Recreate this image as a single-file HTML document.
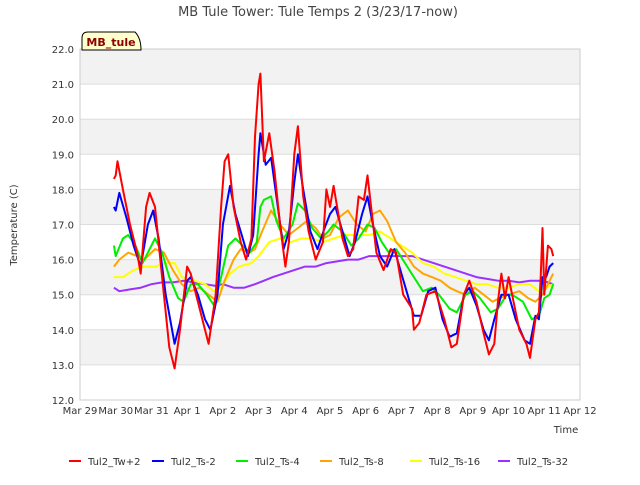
<!DOCTYPE html>
<html><head><meta charset="utf-8"><style>
body{margin:0;background:#fff;font-family:"Liberation Sans",sans-serif}
svg text{font-family:"DejaVu Sans","Liberation Sans",sans-serif}
</style></head><body>
<svg id="c" width="640" height="480">
<text x="318" y="16" text-anchor="middle" font-size="13" fill="#444">MB Tule Tower: Tule Temps 2 (3/23/17-now)</text>
<g id="grid"></g>
<rect x="80" y="49" width="500" height="351" fill="none" stroke="#ccc"/>
<g id="series"></g>
<g id="axes"></g>
<path d="M82,50 L82,38 Q82,32 88,32 L135,32 Q141,38 141,50 Z" fill="#ffffcc" stroke="#000" stroke-width="1"/>
<text x="111" y="46" text-anchor="middle" font-size="11" font-weight="bold" fill="#8b0000">MB_tule</text>
<text x="0" y="0" transform="translate(17,225) rotate(-90)" text-anchor="middle" font-size="10" fill="#333">Temperature (C)</text>
<text x="566" y="433" text-anchor="middle" font-size="10" fill="#333">Time</text>
<g id="legend"></g>
</svg>
<script>
const xTickLabels=["Mar 29","Mar 30","Mar 31","Apr 1","Apr 2","Apr 3","Apr 4","Apr 5","Apr 6","Apr 7","Apr 8","Apr 9","Apr 10","Apr 11","Apr 12"];
const yTicks=[12,13,14,15,16,17,18,19,20,21,22];
const seriesNames=["Tul2_Tw+2","Tul2_Ts-2","Tul2_Ts-4","Tul2_Ts-8","Tul2_Ts-16","Tul2_Ts-32"];
const tw2=[[0.95,18.3],[1.0,18.4],[1.05,18.8],[1.2,18.0],[1.4,17.0],[1.6,16.2],[1.7,15.6],[1.85,17.5],[1.95,17.9],[2.1,17.5],[2.3,15.5],[2.5,13.5],[2.65,12.9],[2.8,14.0],[3.0,15.8],[3.1,15.6],[3.3,14.8],[3.5,14.0],[3.6,13.6],[3.8,15.0],[3.95,17.5],[4.05,18.8],[4.15,19.0],[4.3,17.5],[4.5,16.5],[4.65,16.0],[4.8,16.6],[4.9,19.5],[5.0,21.0],[5.05,21.3],[5.15,18.8],[5.3,19.6],[5.45,18.5],[5.6,17.0],[5.75,15.8],[5.85,16.5],[6.0,19.0],[6.1,19.8],[6.25,17.8],[6.4,16.8],[6.6,16.0],[6.8,16.5],[6.9,18.0],[7.0,17.5],[7.1,18.1],[7.2,17.5],[7.35,16.6],[7.5,16.1],[7.65,16.3],[7.8,17.8],[7.95,17.7],[8.05,18.4],[8.15,17.5],[8.3,16.2],[8.5,15.7],[8.7,16.3],[8.85,16.2],[9.05,15.0],[9.3,14.6],[9.35,14.0],[9.5,14.2],[9.7,15.0],[9.95,15.1],[10.2,14.3],[10.4,13.5],[10.55,13.6],[10.75,15.0],[10.9,15.4],[11.1,14.8],[11.3,13.9],[11.45,13.3],[11.6,13.6],[11.7,14.8],[11.8,15.6],[11.9,14.9],[12.0,15.5],[12.1,15.0],[12.3,14.0],[12.5,13.6],[12.6,13.2],[12.75,14.3],[12.85,14.5],[12.9,15.5],[12.95,16.9],[13.0,15.0],[13.1,16.4],[13.2,16.3],[13.25,16.1]];
const ts2=[[0.95,17.5],[1.0,17.4],[1.1,17.9],[1.3,17.2],[1.5,16.4],[1.7,15.8],[1.9,17.0],[2.05,17.4],[2.2,16.6],[2.4,15.0],[2.65,13.6],[2.8,14.2],[3.0,15.4],[3.1,15.5],[3.3,15.0],[3.5,14.3],[3.65,14.0],[3.85,15.0],[4.0,17.0],[4.2,18.1],[4.35,17.3],[4.5,16.8],[4.7,16.1],[4.85,16.7],[5.0,19.0],[5.05,19.6],[5.2,18.7],[5.35,18.9],[5.5,17.8],[5.7,16.3],[5.85,16.8],[6.0,18.2],[6.1,19.0],[6.25,18.0],[6.45,16.8],[6.65,16.3],[6.85,16.9],[7.0,17.3],[7.15,17.5],[7.35,16.8],[7.55,16.1],[7.7,16.5],[7.9,17.3],[8.05,17.8],[8.2,17.0],[8.4,16.1],[8.6,15.8],[8.8,16.3],[9.0,15.6],[9.2,14.9],[9.35,14.4],[9.55,14.4],[9.75,15.1],[9.95,15.2],[10.15,14.3],[10.35,13.8],[10.55,13.9],[10.75,15.0],[10.9,15.2],[11.1,14.7],[11.3,14.0],[11.45,13.7],[11.6,14.3],[11.8,15.0],[12.0,15.0],[12.2,14.3],[12.45,13.7],[12.6,13.6],[12.75,14.4],[12.85,14.3],[12.95,15.5],[13.05,15.5],[13.15,15.8],[13.25,15.9]];
const ts4=[[0.95,16.4],[1.0,16.1],[1.2,16.6],[1.35,16.7],[1.55,16.4],[1.75,15.9],[1.9,16.2],[2.1,16.6],[2.3,16.2],[2.5,15.5],[2.75,14.9],[2.9,14.8],[3.1,15.3],[3.3,15.3],[3.55,15.0],[3.75,14.7],[3.95,15.5],[4.15,16.4],[4.35,16.6],[4.55,16.4],[4.75,16.2],[4.95,16.5],[5.05,17.5],[5.15,17.7],[5.35,17.8],[5.5,17.1],[5.7,16.6],[5.95,17.0],[6.1,17.6],[6.3,17.4],[6.5,16.9],[6.75,16.6],[6.95,16.8],[7.1,17.0],[7.35,16.8],[7.6,16.4],[7.8,16.6],[8.05,17.0],[8.25,16.9],[8.45,16.5],[8.65,16.2],[8.85,16.3],[9.1,15.9],[9.35,15.5],[9.6,15.1],[9.85,15.2],[10.05,15.0],[10.35,14.6],[10.55,14.5],[10.8,15.0],[11.0,15.1],[11.2,14.9],[11.5,14.5],[11.7,14.6],[11.95,15.0],[12.1,15.0],[12.4,14.8],[12.65,14.3],[12.85,14.4],[13.0,14.9],[13.15,15.0],[13.25,15.3]];
const ts8=[[0.95,15.8],[1.1,16.0],[1.35,16.2],[1.6,16.1],[1.8,16.0],[2.1,16.3],[2.35,16.2],[2.6,15.7],[2.85,15.3],[3.1,15.1],[3.35,15.2],[3.6,15.0],[3.85,14.8],[4.05,15.4],[4.3,16.0],[4.5,16.3],[4.75,16.2],[4.9,16.3],[5.1,16.8],[5.35,17.4],[5.6,17.0],[5.85,16.7],[6.1,16.9],[6.35,17.1],[6.6,16.9],[6.8,16.6],[7.0,16.7],[7.25,17.2],[7.5,17.4],[7.75,17.0],[8.0,16.8],[8.2,17.3],[8.4,17.4],[8.6,17.1],[8.85,16.5],[9.1,16.2],[9.35,15.8],[9.6,15.6],[9.85,15.5],[10.1,15.4],[10.35,15.2],[10.55,15.1],[10.8,15.0],[11.05,15.2],[11.3,15.0],[11.55,14.8],[11.75,14.9],[12.0,15.0],[12.3,15.1],[12.55,14.9],[12.75,14.8],[12.95,15.0],[13.1,15.3],[13.25,15.6]];
const ts16=[[0.95,15.5],[1.2,15.5],[1.5,15.7],[1.8,15.8],[2.1,15.8],[2.4,15.9],[2.65,15.9],[2.85,15.5],[3.2,15.4],[3.5,15.3],[3.75,15.1],[3.95,15.2],[4.2,15.6],[4.45,15.8],[4.8,15.9],[5.0,16.1],[5.3,16.5],[5.6,16.6],[5.9,16.5],[6.2,16.6],[6.5,16.6],[6.8,16.5],[7.1,16.6],[7.4,16.7],[7.8,16.7],[8.1,16.7],[8.4,16.8],[8.7,16.6],[9.0,16.4],[9.3,16.2],[9.6,15.9],[9.9,15.8],[10.2,15.6],[10.5,15.5],[10.8,15.4],[11.1,15.3],[11.4,15.3],[11.7,15.2],[12.0,15.2],[12.3,15.3],[12.6,15.3],[12.85,15.1],[13.05,15.2],[13.25,15.3]];
const ts32=[[0.95,15.2],[1.1,15.1],[1.4,15.15],[1.7,15.2],[2.0,15.3],[2.3,15.35],[2.6,15.35],[2.9,15.4],[3.2,15.35],[3.5,15.3],[3.8,15.25],[4.0,15.3],[4.3,15.2],[4.6,15.2],[4.9,15.3],[5.15,15.4],[5.4,15.5],[5.7,15.6],[6.0,15.7],[6.3,15.8],[6.6,15.8],[6.9,15.9],[7.2,15.95],[7.5,16.0],[7.8,16.0],[8.1,16.1],[8.4,16.1],[8.7,16.1],[9.0,16.1],[9.3,16.1],[9.6,16.0],[9.9,15.9],[10.2,15.8],[10.5,15.7],[10.8,15.6],[11.1,15.5],[11.4,15.45],[11.7,15.4],[12.0,15.4],[12.3,15.35],[12.6,15.4],[12.9,15.4],[13.1,15.35],[13.25,15.3]];
const NS="http://www.w3.org/2000/svg";
const X0=80,X1=580,Y0=400,Y1=49;
function xs(d){return X0+d*(X1-X0)/14;}
function ys(v){return Y0-(v-12)*(Y0-Y1)/10;}
function mk(t,a,p){const e=document.createElementNS(NS,t);for(const k in a)e.setAttribute(k,a[k]);p.appendChild(e);return e;}
const grid=document.getElementById('grid'),axes=document.getElementById('axes');
for(let i=0;i<yTicks.length-1;i++){
 const v=yTicks[i];
 if(i%2===1){const r=mk('rect',{x:X0,y:ys(v+1),width:X1-X0,height:ys(v)-ys(v+1),fill:'#f2f2f2'},grid);
 
 }
}
yTicks.forEach(v=>{
 const l=mk('line',{x1:X0,x2:X1,y1:ys(v),y2:ys(v),stroke:'#ddd'},grid);
 
 
 const t=mk('text',{x:X0-6,y:ys(v)+4,'text-anchor':'end','font-size':10,fill:'#333'},axes);
 t.textContent=v.toFixed(1);
 
 
});
xTickLabels.forEach((s,i)=>{
 const t=mk('text',{x:xs(i),y:414,'text-anchor':'middle','font-size':10,fill:'#333'},axes);
 t.textContent=s;
 
 
});
const colors=['#ff0000','#0000ff','#00ee00','#ffa500','#ffff00','#9b30ff'];
const data=[tw2,ts2,ts4,ts8,ts16,ts32];
const sg=document.getElementById('series');
for(let k=data.length-1;k>=0;k--){
 const pts=data[k].map(p=>xs(p[0]).toFixed(1)+','+ys(p[1]).toFixed(1)).join(' ');
 const pl=mk('polyline',{points:pts,fill:'none',stroke:colors[k],'stroke-width':2,'stroke-linejoin':'round'},sg);
 
 
}
const lg=document.getElementById('legend');
const lx=[69,152,236,320,410,498];
seriesNames.forEach((n,i)=>{
 const g=mk('g',{},lg);
 
 
 mk('line',{x1:lx[i],x2:lx[i]+12,y1:461,y2:461,stroke:colors[i],'stroke-width':2},g);
 const t=mk('text',{x:lx[i]+19,y:465,'font-size':10,fill:'#333'},g);
 t.textContent=n;
});
</script>
</body></html>
